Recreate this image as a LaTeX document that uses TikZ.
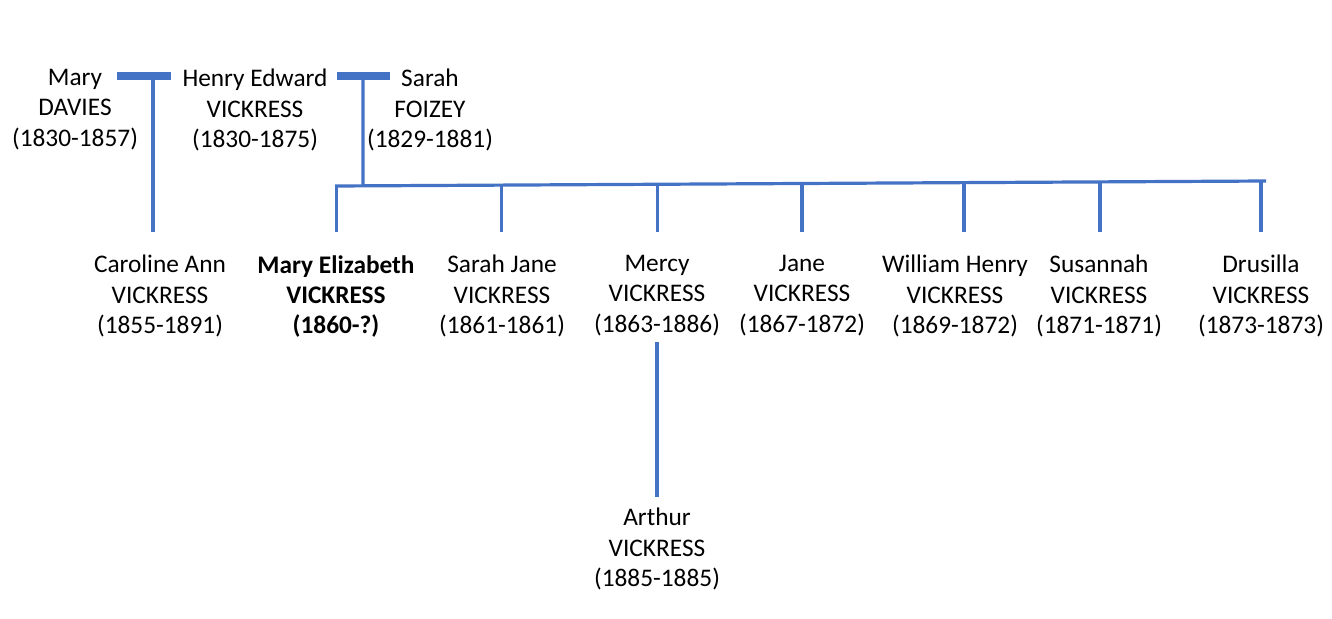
\documentclass[tikz,border=0pt]{standalone}
\usepackage{fontspec}
\setmainfont{Carlito}
\usetikzlibrary{calc,positioning}
\definecolor{linkblue}{HTML}{4472C4}
\tikzset{
	person/.style={align=center,inner sep=0pt,anchor=north,
		font=\fontsize{19}{22.8}\selectfont},
	link/.style={draw=linkblue,line width=2.4pt},
	wed/.style={draw=linkblue,line width=6pt}
}

\begin{document}
\begin{tikzpicture}[x=0.75pt,y=-0.75pt]
		\useasboundingbox (0,0) rectangle (1332,618);
		% parents
		\node[person] (mary) at (75,69) {Mary\\DAVIES\\(1830-1857)};
		\node[person] (henry) at (255,69) {Henry Edward\\VICKRESS\\(1830-1875)};
		\node[person] (sarah) at (430,69) {Sarah\\FOIZEY\\(1829-1881)};
		\coordinate (w1a) at (117,76); \coordinate (w1b) at (171,76);
		\coordinate (w2a) at (337,76); \coordinate (w2b) at (390,76);
		\draw[wed] (w1a) -- (w1b);
		\draw[wed] (w2a) -- (w2b);
		% children
		\node[person] (caroline) at (160,255) {Caroline Ann\\VICKRESS\\(1855-1891)};
		\node[person] (maryeliz) at (336,255) {\bfseries Mary Elizabeth\\\bfseries VICKRESS\\\bfseries (1860-?)};
		\node[person] (sarahj) at (502,255) {Sarah Jane\\VICKRESS\\(1861-1861)};
		\node[person] (mercy) at (657,255) {Mercy\\VICKRESS\\(1863-1886)};
		\node[person] (jane) at (802,255) {Jane\\VICKRESS\\(1867-1872)};
		\node[person] (william) at (955,255) {William Henry\\VICKRESS\\(1869-1872)};
		\node[person] (susannah) at (1099,255) {Susannah\\VICKRESS\\(1871-1871)};
		\node[person] (drusilla) at (1261,255) {Drusilla\\VICKRESS\\(1873-1873)};
		\node[person] (arthur) at (657,508) {Arthur\\VICKRESS\\(1885-1885)};
		% sibling line
		\coordinate (s0) at (335,186); \coordinate (s1) at (1266,181);
		\draw[link] (s0) -- (s1);
		\coordinate (c0) at (153,76);
		\coordinate (c1) at (363,76);
		\coordinate (c2) at ($(s0)!0.0301!(s1)$);
		\draw[link,shorten >=23*0.75pt] (c0) -- (c0 |- caroline.north);
		\draw[link] (c1) -- (c2);
		\foreach \k/\t in {maryeliz/0.002,sarahj/0.1784,mercy/0.346,jane/0.5016,william/0.6756,susannah/0.8217,drusilla/0.9946}{
			\coordinate (d\k) at ($(s0)!\t!(s1)$);
			\draw[link,shorten >=23*0.75pt] (d\k) -- (d\k |- \k.north);
		}
		\coordinate (m0) at ([yshift=-6*0.75pt]mercy.south);
		\draw[link,shorten >=11*0.75pt] (m0) -- (m0 |- arthur.north);
\end{tikzpicture}
\end{document}
